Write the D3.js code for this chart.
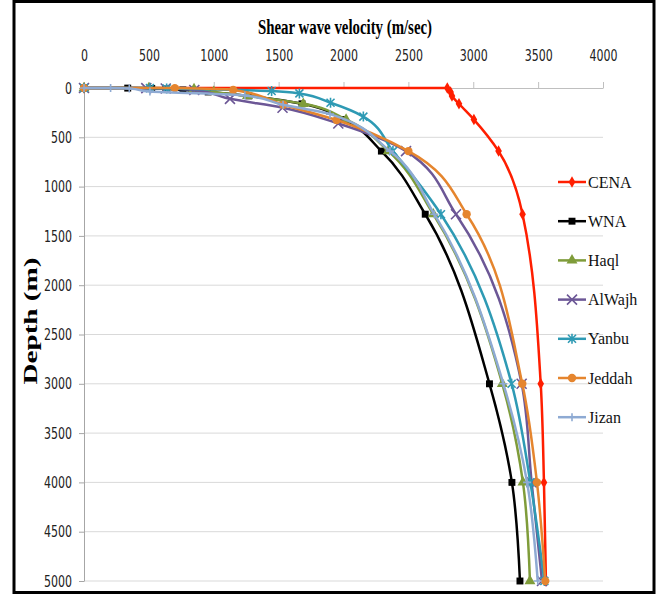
<!DOCTYPE html>
<html>
<head>
<meta charset="utf-8">
<script src="https://cdn.jsdelivr.net/npm/d3@7"></script>
<style>
  body { margin: 0; background: #fff; }
  svg { display: block; }
</style>
</head>
<body>
<div id="chart"></div>
<script>
// depth (m) and shear wave velocity (m/sec), one pair of arrays per profile
const cenaDepth = [0, 1, 40, 80, 160, 320, 640, 1280, 3000, 4000, 5000]
const cenaVs = [0, 2800, 2825, 2836, 2890, 3005, 3195, 3380, 3520, 3545, 3560]

const wnaDepth = [0, 1, 5, 10, 20, 40, 80, 160, 320, 640, 1280, 3000, 4000, 5000]
const wnaVs = [0, 337, 522, 631, 762, 957, 1270, 1680, 1997, 2292, 2630, 3125, 3298, 3360]

const haqlDepth = [0, 1, 10, 40, 80, 160, 320, 640, 1280, 3000, 4000, 5000]
const haqlVs = [0, 500, 848, 1000, 1260, 1690, 2020, 2345, 2692, 3224, 3383, 3437]

const alwajhDepth = [0, 1, 5, 20, 110, 200, 360, 640, 1280, 3000, 4000, 5000]
const alwajhVs = [0, 480, 630, 850, 1125, 1530, 1960, 2482, 2867, 3373, 3450, 3530]

const yanbuDepth = [0, 1, 5, 30, 55, 150, 290, 640, 1280, 3000, 4000, 5000]
const yanbuVs = [0, 508, 637, 1446, 1660, 1900, 2153, 2381, 2751, 3296, 3440, 3548]

const jeddahDepth = [0, 1, 20, 170, 325, 640, 1280, 3000, 4000, 5000]
const jeddahVs = [0, 700, 1150, 1536, 1947, 2500, 2949, 3378, 3491, 3555]

const jizanDepth = [0, 1, 5, 35, 75, 170, 265, 640, 1280, 3000, 4000, 5000]
const jizanVs = [0, 205, 349, 508, 1240, 1534, 1896, 2358, 2700, 3232, 3415, 3497]

const seriesNames = ["CENA", "WNA", "Haql", "AlWajh", "Yanbu", "Jeddah", "Jizan"]
const xTicks = [0, 500, 1000, 1500, 2000, 2500, 3000, 3500, 4000]
const yTicks = [0, 500, 1000, 1500, 2000, 2500, 3000, 3500, 4000, 4500, 5000]

const series = [
  { name: seriesNames[0], depth: cenaDepth, vs: cenaVs, color: "#ff1e00", marker: "diamond" },
  { name: seriesNames[1], depth: wnaDepth, vs: wnaVs, color: "#000000", marker: "square" },
  { name: seriesNames[2], depth: haqlDepth, vs: haqlVs, color: "#7f9c3a", marker: "triangle" },
  { name: seriesNames[3], depth: alwajhDepth, vs: alwajhVs, color: "#6c5796", marker: "x" },
  { name: seriesNames[4], depth: yanbuDepth, vs: yanbuVs, color: "#2e9ab4", marker: "star" },
  { name: seriesNames[5], depth: jeddahDepth, vs: jeddahVs, color: "#e5852e", marker: "circle" },
  { name: seriesNames[6], depth: jizanDepth, vs: jizanVs, color: "#8eaad3", marker: "plus" },
]

const width = 668, height = 596
const svg = d3.select("#chart").append("svg")
  .attr("width", width)
  .attr("height", height)

const x = d3.scaleLinear().domain([0, 4000]).range([84, 603])
const y = d3.scaleLinear().domain([0, 5000]).range([88, 581])

// frame
svg.append("rect")
  .attr("x", 14).attr("y", 1.5)
  .attr("width", 640).attr("height", 591)
  .attr("fill", "none").attr("stroke", "#000").attr("stroke-width", 3)

// horizontal gridlines
svg.append("g").selectAll("line")
  .data(yTicks.filter(d => d > 0))
  .enter().append("line")
  .attr("x1", x(0)).attr("x2", x(4000))
  .attr("y1", d => y(d)).attr("y2", d => y(d))
  .attr("stroke", "#d9d9d9").attr("stroke-width", 1)

const tickFont = "'Liberation Sans Narrow', 'DejaVu Sans Condensed', 'Liberation Sans', sans-serif"

// top axis
const xAxis = svg.append("g")
  .attr("transform", `translate(0,${y(0)})`)
  .call(d3.axisTop(x).tickValues(xTicks).tickSizeInner(6).tickSizeOuter(0).tickPadding(21).tickFormat(d3.format("d")))
xAxis.select(".domain").attr("stroke", "#bfbfbf")
xAxis.selectAll(".tick line").attr("stroke", "#bfbfbf")
xAxis.selectAll(".tick text")
  .attr("fill", "#222")
  .style("font-family", tickFont).style("font-size", "16px")
  .attr("textLength", d => String(d).length * 7)
  .attr("lengthAdjust", "spacingAndGlyphs")

// left axis
const yAxis = svg.append("g")
  .attr("transform", `translate(${x(0)},0)`)
  .call(d3.axisLeft(y).tickValues(yTicks).tickSizeInner(5).tickSizeOuter(0).tickPadding(7).tickFormat(d3.format("d")))
yAxis.select(".domain").attr("stroke", "#a6a6a6")
yAxis.selectAll(".tick line").attr("stroke", "#a6a6a6")
yAxis.selectAll(".tick text")
  .attr("fill", "#222")
  .style("font-family", tickFont).style("font-size", "16px")
  .attr("textLength", d => String(d).length * 7)
  .attr("lengthAdjust", "spacingAndGlyphs")

// titles
svg.append("text")
  .attr("x", 345).attr("y", 34)
  .attr("text-anchor", "middle")
  .attr("textLength", 174).attr("lengthAdjust", "spacingAndGlyphs")
  .style("font-family", "'Liberation Serif', 'Times New Roman', serif")
  .style("font-weight", "bold").style("font-size", "20px")
  .text("Shear wave velocity (m/sec)")

svg.append("text")
  .attr("transform", "translate(37,321) rotate(-90)")
  .attr("text-anchor", "middle")
  .attr("textLength", 127).attr("lengthAdjust", "spacingAndGlyphs")
  .style("font-family", "'Liberation Serif', 'Times New Roman', serif")
  .style("font-weight", "bold").style("font-size", "18px")
  .text("Depth (m)")

// marker drawing
function drawMarker(g, type, color) {
  if (type === "diamond") {
    g.append("path").attr("d", d3.symbol(d3.symbolDiamond, 38)()).attr("fill", color)
  } else if (type === "square") {
    g.append("path").attr("d", d3.symbol(d3.symbolSquare, 48)()).attr("fill", color)
  } else if (type === "triangle") {
    g.append("path").attr("d", d3.symbol(d3.symbolTriangle, 52)()).attr("fill", color)
  } else if (type === "circle") {
    g.append("circle").attr("r", 4.2).attr("fill", color)
  } else if (type === "x") {
    g.append("path").attr("d", "M-5,-5L5,5M-5,5L5,-5")
      .attr("stroke", color).attr("stroke-width", 1.6).attr("fill", "none")
  } else if (type === "star") {
    g.append("path").attr("d", "M-4,-4L4,4M-4,4L4,-4M0,-5L0,5")
      .attr("stroke", color).attr("stroke-width", 1.6).attr("fill", "none")
  } else if (type === "plus") {
    g.append("path").attr("d", "M-4,0L4,0M0,-4L0,4")
      .attr("stroke", color).attr("stroke-width", 1.6).attr("fill", "none")
  }
}

// depth is the independent variable here, so interpolate velocity as a monotone function of depth
const line = d3.line()
  .x(d => x(d.v))
  .y(d => y(d.d))
  .curve(d3.curveMonotoneY)

series.forEach(s => {
  const pts = s.depth.map((d, i) => ({ d: d, v: s.vs[i] }))
  const g = svg.append("g")
  g.append("path")
    .datum(pts)
    .attr("d", line)
    .attr("fill", "none")
    .attr("stroke", s.color)
    .attr("stroke-width", 2.5)
  g.selectAll("g.m")
    .data(pts)
    .enter().append("g")
    .attr("class", "m")
    .attr("transform", p => `translate(${x(p.v)},${y(p.d)})`)
    .each(function() { drawMarker(d3.select(this), s.marker, s.color) })
})

// legend
const legend = svg.append("g")
series.forEach((s, i) => {
  const ly = 182 + i * 39.2
  const lg = legend.append("g").attr("transform", `translate(0,${ly})`)
  lg.append("line")
    .attr("x1", 558).attr("x2", 586)
    .attr("stroke", s.color).attr("stroke-width", 2.5)
  const mg = lg.append("g").attr("transform", "translate(572,0)")
  drawMarker(mg, s.marker, s.color)
  lg.append("text")
    .attr("x", 588).attr("y", 0)
    .attr("dy", "0.35em")
    .style("font-family", "'Liberation Serif', 'Times New Roman', serif")
    .style("font-size", "16px")
    .attr("fill", "#111")
    .text(s.name)
})
</script>
</body>
</html>
